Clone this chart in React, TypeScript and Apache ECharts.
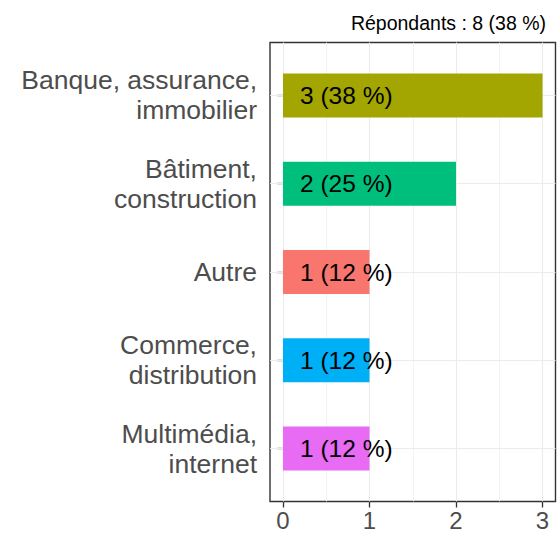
import React, { useEffect, useRef } from "react";
import * as echarts from "echarts";

const categories = [
  "Banque, assurance,\nimmobilier",
  "Bâtiment,\nconstruction",
  "Autre",
  "Commerce,\ndistribution",
  "Multimédia,\ninternet",
];
const counts = [3, 2, 1, 1, 1];
const percents = [38, 25, 12, 12, 12];
const barColors = ["#A3A500", "#00BF7D", "#F8766D", "#00B0F6", "#E76BF3"];
const xTicks = [0, 1, 2, 3];
const xMinorGrid = [0.5, 1.5, 2.5];
const titleText = "Répondants : 8 (38 %)";

const FONT = "'Liberation Sans', Arial, Helvetica, sans-serif";

export default function App() {
  const ref = useRef<HTMLDivElement>(null);
  useEffect(() => {
    if (!ref.current) return;
    const chart = echarts.init(ref.current, undefined, { renderer: "svg" });
    const panelTop = 42.5;
    const panelBottom = 31.5;
    const left = 270;
    const right = 1.5;
    const panelH = 533 - panelTop - panelBottom;
    const unit = panelH / (categories.length + 0.2);
    const pad = unit * 0.1;
    chart.setOption({
      animation: false,
      textStyle: { fontFamily: FONT },
      title: {
        text: titleText,
        right: 6,
        top: 8,
        textStyle: { fontSize: 19.5, fontWeight: "normal", color: "#000", fontFamily: FONT },
      },
      grid: [
        {
          left,
          right,
          top: panelTop,
          bottom: panelBottom,
          show: true,
          borderColor: "#333333",
          borderWidth: 1.4,
          backgroundColor: "transparent",
          containLabel: false,
        },
        {
          left,
          right,
          top: panelTop + pad,
          bottom: panelBottom + pad,
          containLabel: false,
        },
      ],
      xAxis: [
        {
          type: "value",
          gridIndex: 0,
          min: -0.15,
          max: 3.15,
          axisLine: { show: false },
          splitLine: { show: false },
          axisTick: {
            show: true,
            customValues: xTicks,
            length: 6,
            lineStyle: { color: "#333333", width: 1.3 },
          },
          axisLabel: {
            customValues: xTicks,
            fontSize: 24,
            color: "#4D4D4D",
            margin: 7,
            fontFamily: FONT,
          },
        },
        {
          type: "value",
          gridIndex: 1,
          min: -0.15,
          max: 3.15,
          show: false,
          splitLine: { show: false },
        },
      ],
      yAxis: [
        { type: "value", gridIndex: 0, min: 0, max: 1, show: false, splitLine: { show: false } },
        {
          type: "category",
          gridIndex: 1,
          data: categories,
          inverse: true,
          axisLine: { show: false },
          splitLine: { show: false },
          axisTick: {
            show: true,
            alignWithLabel: true,
            length: 6,
            lineStyle: { color: "#333333", width: 1.3 },
          },
          axisLabel: {
            fontSize: 26.5,
            lineHeight: 30,
            color: "#4D4D4D",
            margin: 13,
            align: "right",
            fontFamily: FONT,
          },
        },
      ],
      series: [
        {
          type: "line",
          xAxisIndex: 0,
          yAxisIndex: 0,
          data: [],
          silent: true,
          markLine: {
            silent: true,
            symbol: "none",
            z: 1,
            animation: false,
            label: { show: false },
            data: [
              ...xTicks.map((v) => ({ xAxis: v, lineStyle: { color: "#EBEBEB", width: 1.1, type: "solid" } })),
              ...xMinorGrid.map((v) => ({ xAxis: v, lineStyle: { color: "#F0F0F0", width: 0.8, type: "solid" } })),
            ],
          },
        },
        {
          type: "bar",
          xAxisIndex: 1,
          yAxisIndex: 1,
          barWidth: "50%",
          z: 2,
          data: counts.map((v, i) => ({ value: v, itemStyle: { color: barColors[i] } })),
          label: {
            show: true,
            position: "insideLeft",
            distance: 17,
            color: "#000",
            fontSize: 24.5,
            fontFamily: FONT,
            formatter: (p: any) => `${counts[p.dataIndex]} (${percents[p.dataIndex]}\u00a0%)`,
          },
          markLine: {
            silent: true,
            symbol: "none",
            z: 1,
            animation: false,
            label: { show: false },
            data: categories.map((_, i) => ({
              yAxis: i,
              lineStyle: { color: "#EBEBEB", width: 1.1, type: "solid" },
            })),
          },
        },
      ],
    });
    return () => chart.dispose();
  }, []);
  return <div ref={ref} style={{ width: 557, height: 533, position: "absolute", left: 0, top: 0 }} />;
}
